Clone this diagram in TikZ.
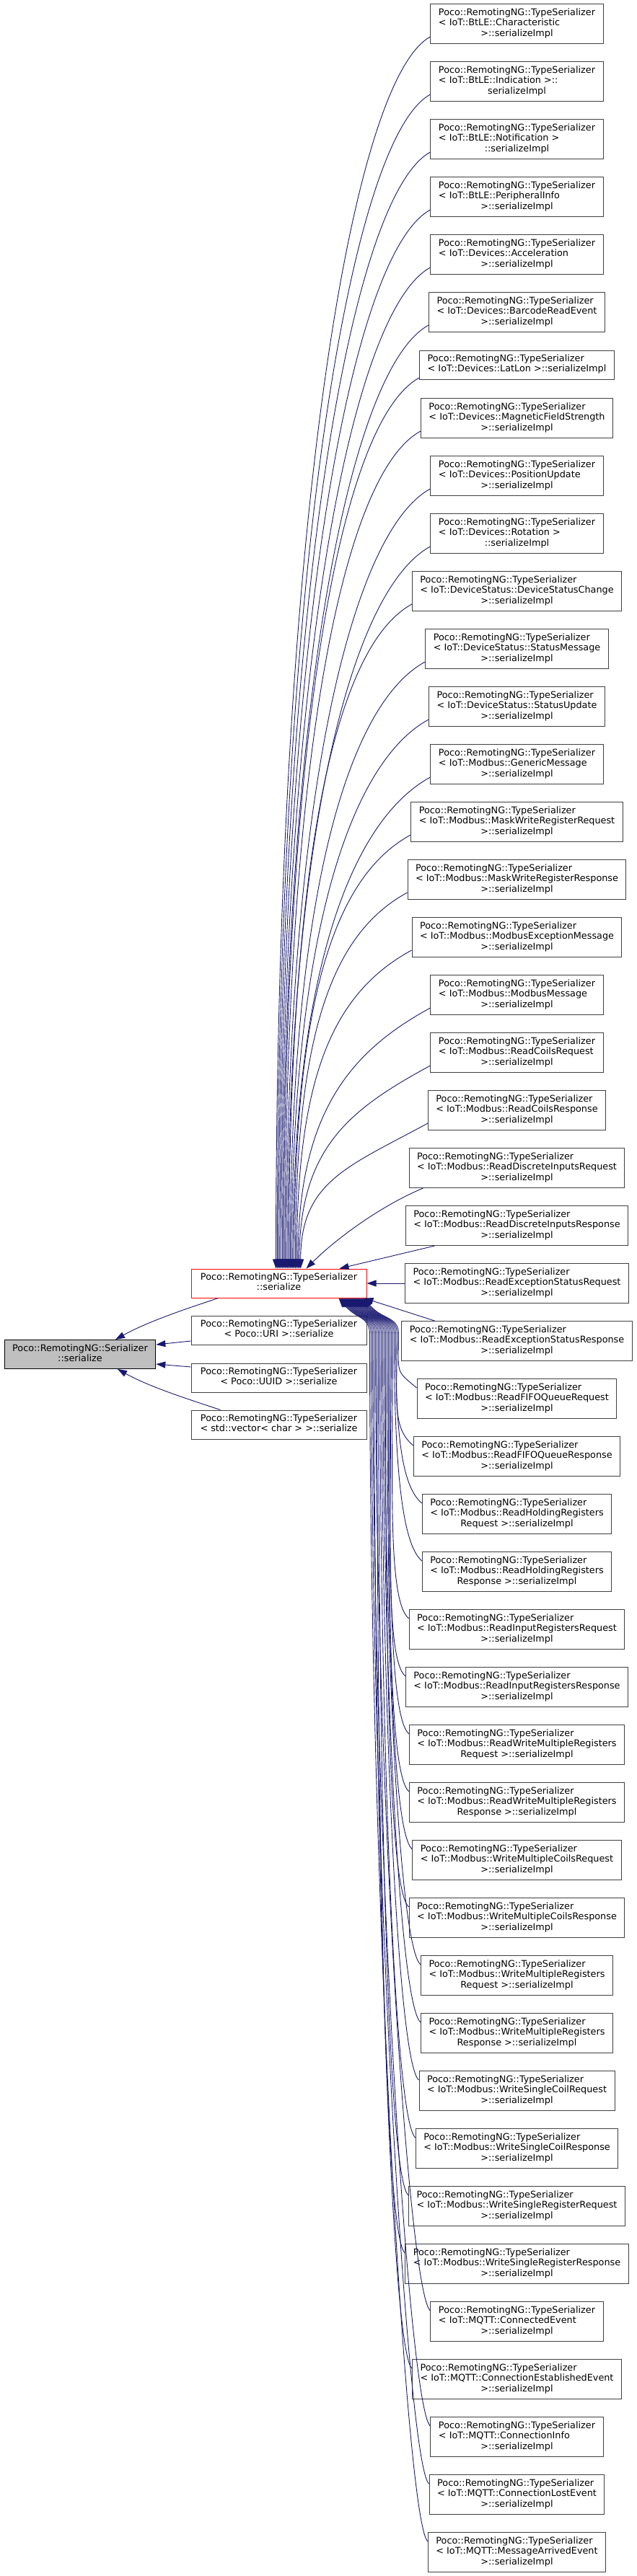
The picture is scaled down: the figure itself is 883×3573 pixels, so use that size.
\documentclass[tikz,border=0pt]{standalone}
\usepackage{fontspec}
\setmainfont{DejaVu Sans}
\usetikzlibrary{arrows.meta,calc}
\definecolor{edgeblue}{RGB}{25,25,112}
\definecolor{framegray}{RGB}{64,64,64}
\definecolor{focusgray}{RGB}{191,191,191}
\newcommand{\tsimpl}[2]{\begin{tabular}{@{}l@{}}Poco::RemotingNG::TypeSerializer\\#1\\\multicolumn{1}{@{}c@{}}{#2}\end{tabular}}
\newcommand{\tstwo}[2]{\begin{tabular}{@{}c@{}}#1\\#2\end{tabular}}

\begin{document}
\begin{tikzpicture}[x=1pt, y=-1pt,
    every node/.style={font={\fontsize{12.8pt}{14.2pt}\selectfont}},
    fn/.style={draw=framegray, line width=1pt, fill=white, inner xsep=11pt, inner ysep=0pt, minimum height=55pt},
    fnshort/.style={fn, minimum height=40pt},
    mid/.style={fnshort, minimum width=243pt},
    call/.style={draw=edgeblue, line width=0.9pt, -{Triangle[length=13pt,width=9pt]}}]
    \useasboundingbox (0,0) rectangle (883,3573);

    % right column: the serializeImpl callers
    \node[fn] (chr) at (716.5,33) {\tsimpl{< IoT::BtLE::Characteristic}{>::serializeImpl}};
    \node[fn] (ind) at (716.5,113) {\tsimpl{< IoT::BtLE::Indication >::}{serializeImpl}};
    \node[fn] (ntf) at (716.5,193) {\tsimpl{< IoT::BtLE::Notification >}{::serializeImpl}};
    \node[fn] (per) at (716.5,273) {\tsimpl{< IoT::BtLE::PeripheralInfo}{>::serializeImpl}};
    \node[fn] (acc) at (716.5,353) {\tsimpl{< IoT::Devices::Acceleration}{>::serializeImpl}};
    \node[fn] (bcr) at (716.5,433) {\tsimpl{< IoT::Devices::BarcodeReadEvent}{>::serializeImpl}};
    \node[fnshort] (ltl) at (716.5,506) {\begin{tabular}{@{}l@{}}Poco::RemotingNG::TypeSerializer\\< IoT::Devices::LatLon >::serializeImpl\end{tabular}};
    \node[fn] (mag) at (716.5,580) {\tsimpl{< IoT::Devices::MagneticFieldStrength}{>::serializeImpl}};
    \node[fn] (pos) at (716.5,660) {\tsimpl{< IoT::Devices::PositionUpdate}{>::serializeImpl}};
    \node[fn] (rot) at (716.5,740) {\tsimpl{< IoT::Devices::Rotation >}{::serializeImpl}};
    \node[fn] (dsc) at (716.5,820) {\tsimpl{< IoT::DeviceStatus::DeviceStatusChange}{>::serializeImpl}};
    \node[fn] (stm) at (716.5,900) {\tsimpl{< IoT::DeviceStatus::StatusMessage}{>::serializeImpl}};
    \node[fn] (stu) at (716.5,980) {\tsimpl{< IoT::DeviceStatus::StatusUpdate}{>::serializeImpl}};
    \node[fn] (gen) at (716.5,1060) {\tsimpl{< IoT::Modbus::GenericMessage}{>::serializeImpl}};
    \node[fn] (mwq) at (716.5,1140) {\tsimpl{< IoT::Modbus::MaskWriteRegisterRequest}{>::serializeImpl}};
    \node[fn] (mwp) at (716.5,1220) {\tsimpl{< IoT::Modbus::MaskWriteRegisterResponse}{>::serializeImpl}};
    \node[fn] (mex) at (716.5,1300) {\tsimpl{< IoT::Modbus::ModbusExceptionMessage}{>::serializeImpl}};
    \node[fn] (mmsg) at (716.5,1380) {\tsimpl{< IoT::Modbus::ModbusMessage}{>::serializeImpl}};
    \node[fn] (rcq) at (716.5,1460) {\tsimpl{< IoT::Modbus::ReadCoilsRequest}{>::serializeImpl}};
    \node[fn] (rcp) at (716.5,1540) {\tsimpl{< IoT::Modbus::ReadCoilsResponse}{>::serializeImpl}};
    \node[fn] (rdq) at (716.5,1620) {\tsimpl{< IoT::Modbus::ReadDiscreteInputsRequest}{>::serializeImpl}};
    \node[fn] (rdp) at (716.5,1700) {\tsimpl{< IoT::Modbus::ReadDiscreteInputsResponse}{>::serializeImpl}};
    \node[fn] (resq) at (716.5,1780) {\tsimpl{< IoT::Modbus::ReadExceptionStatusRequest}{>::serializeImpl}};
    \node[fn] (resp) at (716.5,1860) {\tsimpl{< IoT::Modbus::ReadExceptionStatusResponse}{>::serializeImpl}};
    \node[fn] (rfq) at (716.5,1940) {\tsimpl{< IoT::Modbus::ReadFIFOQueueRequest}{>::serializeImpl}};
    \node[fn] (rfp) at (716.5,2020) {\tsimpl{< IoT::Modbus::ReadFIFOQueueResponse}{>::serializeImpl}};
    \node[fn] (rhq) at (716.5,2100) {\tsimpl{< IoT::Modbus::ReadHoldingRegisters}{Request >::serializeImpl}};
    \node[fn] (rhp) at (716.5,2180) {\tsimpl{< IoT::Modbus::ReadHoldingRegisters}{Response >::serializeImpl}};
    \node[fn] (riq) at (716.5,2260) {\tsimpl{< IoT::Modbus::ReadInputRegistersRequest}{>::serializeImpl}};
    \node[fn] (rip) at (716.5,2340) {\tsimpl{< IoT::Modbus::ReadInputRegistersResponse}{>::serializeImpl}};
    \node[fn] (rwq) at (716.5,2420) {\tsimpl{< IoT::Modbus::ReadWriteMultipleRegisters}{Request >::serializeImpl}};
    \node[fn] (rwp) at (716.5,2500) {\tsimpl{< IoT::Modbus::ReadWriteMultipleRegisters}{Response >::serializeImpl}};
    \node[fn] (wmcq) at (716.5,2580) {\tsimpl{< IoT::Modbus::WriteMultipleCoilsRequest}{>::serializeImpl}};
    \node[fn] (wmcp) at (716.5,2660) {\tsimpl{< IoT::Modbus::WriteMultipleCoilsResponse}{>::serializeImpl}};
    \node[fn] (wmrq) at (716.5,2740) {\tsimpl{< IoT::Modbus::WriteMultipleRegisters}{Request >::serializeImpl}};
    \node[fn] (wmrp) at (716.5,2820) {\tsimpl{< IoT::Modbus::WriteMultipleRegisters}{Response >::serializeImpl}};
    \node[fn] (wscq) at (716.5,2900) {\tsimpl{< IoT::Modbus::WriteSingleCoilRequest}{>::serializeImpl}};
    \node[fn] (wscp) at (716.5,2980) {\tsimpl{< IoT::Modbus::WriteSingleCoilResponse}{>::serializeImpl}};
    \node[fn] (wsrq) at (716.5,3060) {\tsimpl{< IoT::Modbus::WriteSingleRegisterRequest}{>::serializeImpl}};
    \node[fn] (wsrp) at (716.5,3140) {\tsimpl{< IoT::Modbus::WriteSingleRegisterResponse}{>::serializeImpl}};
    \node[fn] (mce) at (716.5,3220) {\tsimpl{< IoT::MQTT::ConnectedEvent}{>::serializeImpl}};
    \node[fn] (mcee) at (716.5,3300) {\tsimpl{< IoT::MQTT::ConnectionEstablishedEvent}{>::serializeImpl}};
    \node[fn] (mci) at (716.5,3380) {\tsimpl{< IoT::MQTT::ConnectionInfo}{>::serializeImpl}};
    \node[fn] (mcl) at (716.5,3460) {\tsimpl{< IoT::MQTT::ConnectionLostEvent}{>::serializeImpl}};
    \node[fn] (mma) at (716.5,3540) {\tsimpl{< IoT::MQTT::MessageArrivedEvent}{>::serializeImpl}};

    % middle column and the focus node
    \node[mid, draw=red] (tser) at (386.5,1780) {\tstwo{Poco::RemotingNG::TypeSerializer}{::serialize}};
    \node[mid] (turi) at (386.5,1845) {\tstwo{Poco::RemotingNG::TypeSerializer}{< Poco::URI >::serialize}};
    \node[mid] (tuuid) at (386.5,1911) {\tstwo{Poco::RemotingNG::TypeSerializer}{< Poco::UUID >::serialize}};
    \node[mid] (tvec) at (386.5,1976) {\tstwo{Poco::RemotingNG::TypeSerializer}{< std::vector< char > >::serialize}};
    \node[fnshort, fill=focusgray, draw=black] (ser) at (111,1878.5) {\tstwo{Poco::RemotingNG::Serializer}{::serialize}};

    % upper callers run down into the top of tser
    \foreach \n/\m [count=\i from 0] in {chr/1025, ind/977, ntf/929, per/881, acc/833, bcr/785, ltl/742, mag/697, pos/649, rot/601, dsc/553, stm/505, stu/457, gen/409, mwq/361, mwp/313, mex/265, mmsg/217, rcq/169, rcp/121}
        \draw[call] ($(\n.west)+(0,18)$) .. controls +(-110,60) and +(0,-\m) .. ($(tser.north west)+({118+1.8*\i},0)$);
    \draw[call] ($(rdq.south)+(-130,0)$) .. controls +(-60,25) and +(40,-40) .. ($(tser.north west)+(160,0)$);
    \draw[call] ($(rdp.south)+(-114,0)$) -- ($(tser.north east)+(-38,0)$);
    \draw[call] (resq.west) -- (tser.east);
    \draw[call] ($(resp.north)+(-114,0)$) -- ($(tser.south east)+(-4,0)$);

    % lower callers run up a bundle right of the middle column, then hook into tser
    \foreach \n [count=\i from 24] in {rfq, rfp, rhq, rhp, riq, rip, rwq, rwp, wmcq, wmcp, wmrq, wmrp, wscq, wscp, wsrq, wsrp, mce, mcee, mci, mcl, mma} {
        \pgfmathsetmacro\m{0.45*(80*\i-1795)}
        \pgfmathsetmacro\xb{553-2*(\i-24)}
        \draw[call] ($(\n.west)+(0,-15)$) .. controls +(-30,-25) and +(0,\m) .. ($(tser.south west)+({\xb-265},50)$)
            .. controls +(0,-25) and +(25,30) .. ($(tser.south west)+({240-1.75*(\i-24)},0)$);
    }

    % into Serializer::serialize
    \draw[call] ($(tser.south west)+(38,0)$) .. controls +(-45,15) and +(45,-25) .. ($(ser.north)+(49,0)$);
    \draw[call] ($(turi.west)+(0,15)$) -- ($(ser.east)+(0,-13.5)$);
    \draw[call] ($(tuuid.west)+(0,-15)$) -- ($(ser.east)+(0,13.5)$);
    \draw[call] ($(tvec.north west)+(41,0)$) .. controls +(-45,-15) and +(45,25) .. ($(ser.south)+(52,0)$);
\end{tikzpicture}
\end{document}
